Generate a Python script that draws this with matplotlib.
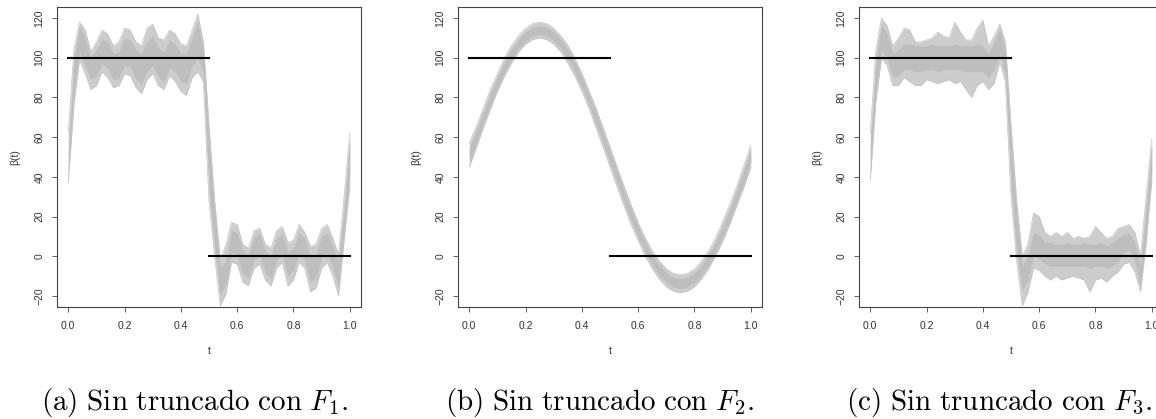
import matplotlib
matplotlib.use('Agg')
import matplotlib.pyplot as plt
import numpy as np

plt.rcParams['mathtext.fontset'] = 'cm'
plt.rcParams['font.family'] = ['Liberation Sans', 'DejaVu Sans']

# rejilla de t (paneles a y c)
t_ac = np.round(np.arange(0, 1.0001, 0.02), 2)

# panel a: envolvente exterior (lo/hi) y nucleo denso (clo/chi)
a_lo = [37, 76, 99, 92, 84, 86, 93, 90, 85, 86, 92, 91, 85, 82, 89, 92, 86, 84, 91, 88, 83, 81, 90, 93, 88,
        28, 0, -25, -19, -3, -4, -13, -15, -6, -4, -12, -15, -6, -3, -15, -12, -3, -6, -18, -16, -6, -3, -10, -20, 8, 35]
a_clo = [42, 84, 103, 96, 89, 91, 97, 95, 89, 90, 96, 96, 89, 87, 93, 96, 90, 88, 95, 93, 88, 87, 96, 100, 92,
         35, 5, -20, -14, 2, 0, -9, -11, -2, 0, -8, -11, -2, 1, -10, -7, 1, -2, -13, -11, -1, 2, -6, -16, 13, 42]
a_chi = [52, 98, 116, 110, 100, 104, 110, 108, 102, 103, 110, 109, 104, 102, 108, 111, 105, 103, 109, 107, 102, 102, 110, 118, 104,
         58, 22, -6, -2, 13, 12, 3, 0, 10, 11, 3, 0, 9, 11, 2, 4, 12, 9, 0, 1, 10, 12, 5, -3, 24, 58]
a_hi = [62, 104, 118, 114, 103, 108, 114, 112, 106, 108, 115, 114, 108, 106, 115, 117, 110, 109, 114, 112, 107, 106, 114, 122, 108,
        66, 28, -2, 6, 17, 16, 6, 4, 13, 14, 6, 4, 13, 15, 7, 8, 16, 12, 5, 6, 14, 16, 9, 1, 30, 62]

# panel c
c_lo = [38, 78, 100, 96, 86, 86, 90, 88, 86, 86, 89, 88, 87, 88, 89, 87, 88, 84, 80, 86, 88, 84, 87, 98, 88,
        30, -2, -25, -18, -6, -7, -10, -12, -10, -12, -11, -10, -11, -12, -18, -12, -11, -13, -10, -8, -4, -3, -8, -18, 6, 38]
c_clo = [42, 84, 104, 100, 90, 91, 94, 94, 93, 93, 94, 94, 93, 94, 94, 94, 94, 93, 93, 93, 93, 90, 94, 102, 92,
         36, 3, -17, -12, 0, -1, -4, -5, -5, -5, -5, -5, -5, -5, -6, -5, -5, -6, -5, -3, 2, 3, -3, -15, 12, 42]
c_chi = [56, 98, 117, 112, 102, 104, 107, 107, 106, 106, 106, 107, 106, 106, 106, 107, 106, 106, 106, 107, 106, 102, 108, 114, 104,
         58, 22, -5, 0, 12, 11, 7, 7, 6, 6, 7, 6, 6, 7, 6, 6, 7, 5, 7, 9, 11, 12, 7, -5, 24, 56]
c_hi = [62, 104, 120, 116, 106, 110, 115, 114, 108, 108, 109, 110, 113, 111, 110, 118, 113, 109, 109, 115, 119, 106, 111, 117, 108,
        66, 28, 0, 6, 22, 20, 12, 10, 12, 10, 12, 9, 10, 9, 10, 15, 12, 9, 10, 14, 15, 16, 12, 0, 30, 59]

# panel b: centro de la banda y semiancho
t_b = np.round(np.arange(0, 1.0001, 0.025), 3)
b_mid = [51, 60, 69.8, 79.1, 87.6, 95.3, 101.8, 107, 110.9, 113.2, 114, 113.2, 110.9, 107, 101.8, 95.3, 87.6, 79.1, 69.8, 60, 50,
         40, 30.2, 20.9, 12.4, 4.7, -1.8, -7, -10.9, -13.2, -13.8, -13.2, -10.9, -7, -1.8, 4.7, 12.4, 20.9, 30.2, 40, 50.5]
b_half = [6, 5.5, 5, 5, 4.5, 4.5, 4.5, 4, 4, 4, 4, 4, 4, 4, 4.5, 4.5, 4.5, 4.5, 5, 5, 5,
          5, 5, 5, 4.5, 4.5, 4.5, 4.5, 4.5, 4.5, 4.5, 4.5, 4.5, 4.5, 4.5, 4.5, 5, 5, 5, 5.5, 5.5]

# funcion verdadera (escalon)
step_t = [[0, 0.5], [0.5, 1.0]]
step_y = [100, 0]

captions = [r'$\mathrm{(a)\ Sin\ truncado\ con\ }F_1.$',
            r'$\mathrm{(b)\ Sin\ truncado\ con\ }F_2.$',
            r'$\mathrm{(c)\ Sin\ truncado\ con\ }F_3.$']
cap_x = [195, 600, 999]

b_mid = np.array(b_mid)
b_half = np.array(b_half)
bands = [
    (t_ac, a_lo, a_clo, a_chi, a_hi),
    (t_b, b_mid - b_half, b_mid - 0.55 * b_half, b_mid + 0.55 * b_half, b_mid + b_half),
    (t_ac, c_lo, c_clo, c_chi, c_hi),
]

W, H = 1156, 419
fig = plt.figure(figsize=(W / 100, H / 100), dpi=100)
ax_left = [57, 458, 859]

for i in range(3):
    ax = fig.add_axes([ax_left[i] / W, 1 - 307 / H, 304 / W, 300 / H])
    t, lo, clo, chi, hi = bands[i]
    ax.fill_between(t, lo, hi, color='#cdcdcd', lw=0)
    ax.plot(t, lo, color='#c2c2c2', lw=0.5)
    ax.plot(t, hi, color='#c2c2c2', lw=0.5)
    ax.fill_between(t, clo, chi, color='#bebebe', lw=0)
    for st, sy in zip(step_t, step_y):
        ax.plot(st, [sy, sy], color='black', lw=1.5)

    ax.set_xlim(-0.04, 1.04)
    ax.set_ylim(-25.6, 125.6)
    ax.set_xticks([0, 0.2, 0.4, 0.6, 0.8, 1.0])
    ax.set_xticklabels(['0.0', '0.2', '0.4', '0.6', '0.8', '1.0'])
    ax.set_yticks(range(-20, 121, 20))
    for lab in ax.get_yticklabels():
        lab.set_rotation(90)
        lab.set_va('center')
    ax.tick_params(direction='out', length=3.6, width=0.6, colors='#444444',
                   labelsize=7.5, labelcolor='#333333')
    ax.tick_params(axis='x', pad=6.5)
    ax.tick_params(axis='y', pad=5.5)
    for sp in ax.spines.values():
        sp.set_color('#444444')
        sp.set_linewidth(0.8)
    ax.set_xlabel('t', fontsize=7.5, color='#333333', labelpad=11)
    ax.set_ylabel('β(t)', fontsize=7.5, color='#333333', labelpad=10)

    fig.text(cap_x[i] / W, 1 - 410 / H, captions[i], fontsize=21, ha='center', va='baseline')

fig.savefig('out.png', dpi=100)
